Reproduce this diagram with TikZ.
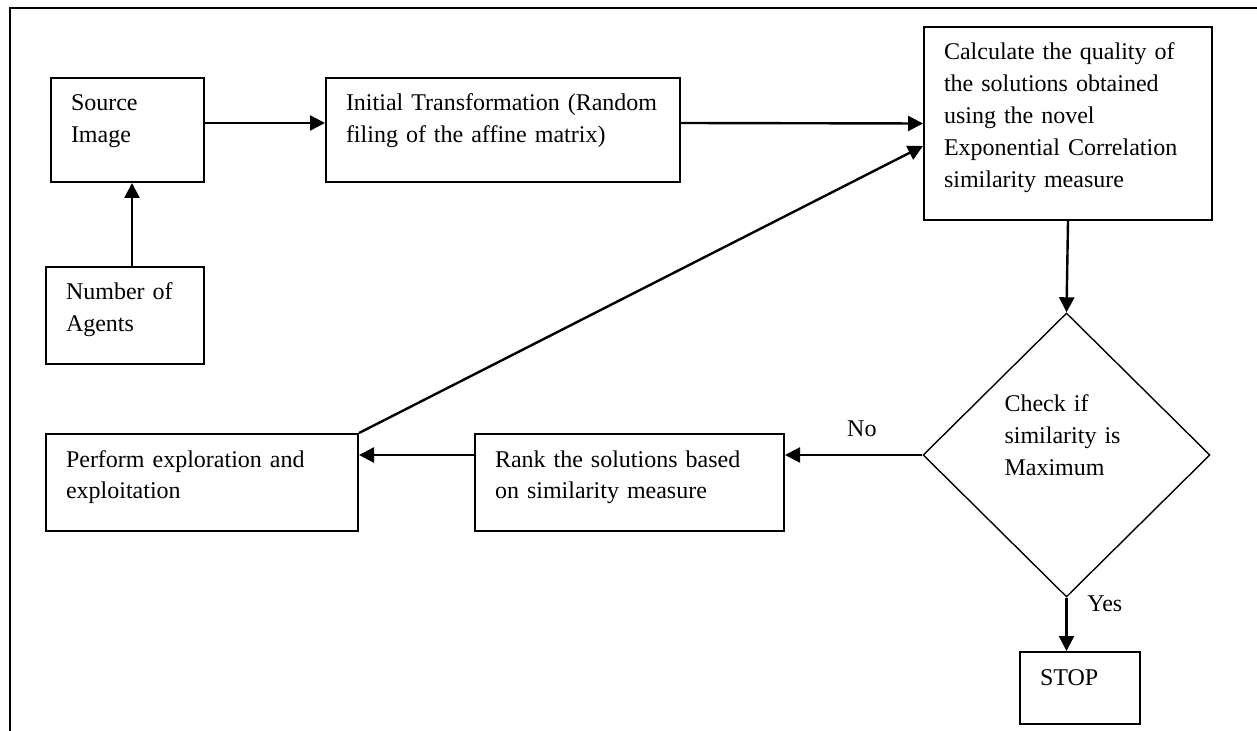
\documentclass[tikz,border=0pt]{standalone}
\usepackage{fontspec}
\setmainfont{Liberation Serif}
\usepackage{tikz}
\usetikzlibrary{arrows.meta,positioning,shapes.geometric}

\begin{document}
\begin{tikzpicture}[
  x=0.5pt, y=-0.5pt,
  font=\fontsize{12}{16}\selectfont,
  box/.style={draw,line width=1pt,align=left,anchor=north west,inner xsep=10pt,inner ysep=0pt,text height=16.5pt},
  dec/.style={draw,diamond,line width=0.7pt,align=left,inner sep=0pt,text width=62pt,text height=8pt,text depth=51pt,minimum width=143.5pt,minimum height=142pt},
  arr/.style={-{Triangle[length=7.5pt,width=7.5pt]},line width=1.2pt}
]
\useasboundingbox (0,0) rectangle (1257,731);
\draw[line width=1pt] (10,731) -- (10,8) -- (1257,8);
\node[box,text width=56.5pt,text depth=35.5pt] (src) at (50,77) {Source\\Image};
\node[box,text width=59pt,text depth=32pt] (agents) at (45,266) {Number of\\Agents};
\node[box,text width=157pt,text depth=35.5pt,right=60pt of src] (init) {Initial Transformation (Random\\filing of the affine matrix)};
\node[box,text width=124pt,text depth=80pt] (calc) at (923,26) {Calculate the quality of\\the solutions obtained\\using the novel\\Exponential Correlation\\similarity measure};
\node[dec] (chk) at (1066.5,455) {Check if\\similarity is\\Maximum};
\node[box,text width=136pt,text depth=32pt] (perf) at (45,433) {Perform exploration and\\exploitation};
\node[box,text width=134.5pt,text depth=32pt,right=57.5pt of perf] (rank) {Rank the solutions based\\on similarity measure};
\node[box,text width=40pt,text depth=19.5pt] (stop) at (1019,651) {STOP};
\draw[arr] ([xshift=3.5pt]agents.north) -- ([xshift=3.5pt]agents.north |- src.south);
\draw[arr] ([yshift=3.5pt]src.east) -- ([yshift=3.5pt]init.west);
\draw[arr] ([yshift=3.5pt]init.east) -- (calc.west);
\draw[arr] (calc.south) -- (chk.north);
\draw[arr] (chk.west) -- node[above=5pt,pos=0.44] {No} (chk.west -| rank.east);
\draw[arr] (chk.west -| rank.west) -- (chk.west -| perf.east);
\draw[arr] (perf.north east) -- ([yshift=-11.25pt]calc.west);
\draw[arr] (chk.south) -- node[right=6.5pt,pos=0.12] {Yes} (chk.south |- stop.north);
\end{tikzpicture}
\end{document}
